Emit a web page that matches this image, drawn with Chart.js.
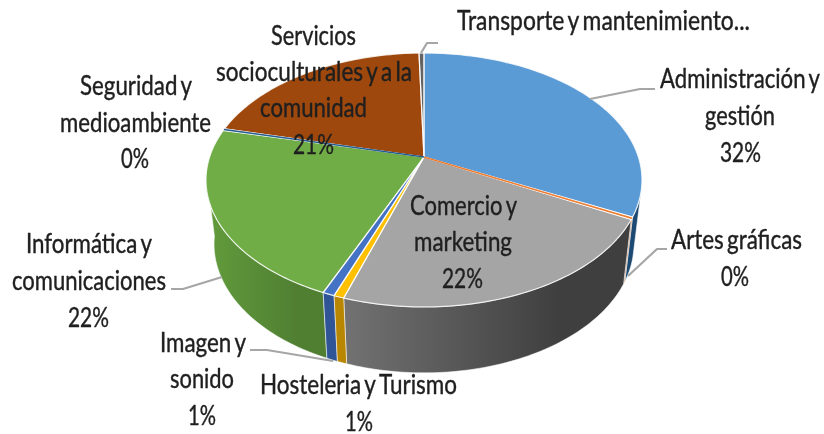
<!DOCTYPE html>
<html><head><meta charset="utf-8">
<style>html,body{margin:0;padding:0;background:#fff}canvas{display:block}</style>
<script src="https://cdn.jsdelivr.net/npm/chart.js@4/dist/chart.umd.js"></script>
</head><body><canvas id="c" width="824" height="434"></canvas>
<script>
const categories = ["Administración y gestión","Artes gráficas","Comercio y marketing","Hosteleria y Turismo","Imagen y sonido","Informática y comunicaciones","Seguridad y medioambiente","Servicios socioculturales y a la comunidad","Transporte y mantenimiento..."];
const shareValues = [32.4,0.28,22.3,0.64,0.75,22.2,0.22,20.7,0.44];
const topColors = ["#5b9bd5","#ed7d31","#a5a5a5","#ffc000","#4472c4","#70ad47","#255e91","#9e480e","#636363"];
const wallColors = [["#1c4a72","#1c4a72"],["#b05a20","#b05a20"],["#727272","#3f3f3f"],["#b88600","#b88600"],["#2f5597","#2f5597"],["#629c3c","#507f32"],["#1a4266","#1a4266"],["#6f330a","#6f330a"],["#464646","#464646"]];
const labelLines = [["Administración y","gestión"],["Artes gráficas"],["Comercio y","marketing"],["Hosteleria y Turismo"],["Imagen y","sonido"],["Informática y","comunicaciones"],["Seguridad y","medioambiente"],["Servicios","socioculturales y a la","comunidad"],["Transporte y mantenimiento..."]];
const showPercent = [true,true,true,true,true,true,true,true,false];

// text placement: [left, right, baseline] per printed line
const labelBoxes = [
 [[660,820,88],[705,775,125],[720,761,162]],
 [[671,802,249],[721,749,286]],
 [[410,517,215],[414,512,251],[442,483,288]],
 [[260,457,394],[345,373,431]],
 [[160,246,352],[170,234,388],[188,216,425]],
 [[26,152,253],[12,166,290],[68,109,327]],
 [[80,192,95],[60,211,132],[121,149,168]],
 [[271,356,45],[216,412,81],[260,367,117],[293,334,154]],
 [[457,750,30]]
];
const leaders = [
 [[590,99],[640,89],[655,89]],
 [[628,276],[657,249],[667,249]],
 [[171,289],[183,289],[222,277]],
 [[250,350],[267,350],[333,361]],
 [[421,53],[427,43],[438,43]]
];
const top3d = {cx:424,cy:157,rx:214.4,ry:122.8};
const bot3d = {cx:424,cy:220.6,rx:206.5,ry:124.7};
const K = 0.181;

function proj(p,theta){
  const x=Math.sin(theta), y=-Math.cos(theta), w=1-K*y;
  return [p.cx+p.rx*x/w, p.cy+p.ry*y/w];
}
function rim(p,a,b){
  const n=Math.max(2,Math.ceil((b-a)/0.02)), out=[];
  for(let i=0;i<=n;i++) out.push(proj(p,a+(b-a)*i/n));
  return out;
}
function trace(ctx,pts){pts.forEach((q,i)=>i?ctx.lineTo(q[0],q[1]):ctx.moveTo(q[0],q[1]));}
function trace2(ctx,pts){pts.forEach(q=>ctx.lineTo(q[0],q[1]));}

const pie3d = {
  id:'pie3d',
  beforeDatasetsDraw(chart){
    const ctx=chart.ctx, arcs=chart.getDatasetMeta(0).data;
    const spans=arcs.map(a=>[a.startAngle+Math.PI/2,a.endAngle+Math.PI/2]);
    const lo=106*Math.PI/180, hi=263*Math.PI/180;
    ctx.save();
    ctx.lineJoin='round';
    // side walls, outer ones first
    const order=spans.map((s,i)=>i).sort((i,j)=>Math.abs((spans[j][0]+spans[j][1])/2-Math.PI)-Math.abs((spans[i][0]+spans[i][1])/2-Math.PI));
    order.forEach(i=>{
      const a=Math.max(spans[i][0],lo), b=Math.min(spans[i][1],hi);
      if(b<=a) return;
      const t=rim(top3d,a,b), u=rim(bot3d,a,b).reverse();
      const poly=t.concat(u), xs=poly.map(q=>q[0]);
      const x0=Math.min(...xs), x1=Math.max(...xs);
      const g=ctx.createLinearGradient(x0,0,x0+(x1-x0)*0.75,0);
      g.addColorStop(0,wallColors[i][0]); g.addColorStop(1,wallColors[i][1]);
      ctx.beginPath(); trace(ctx,poly); ctx.closePath();
      ctx.fillStyle=g; ctx.fill();
      ctx.strokeStyle='rgba(255,255,255,0.55)'; ctx.lineWidth=1; ctx.stroke();
    });
    // top faces
    spans.forEach((s,i)=>{
      ctx.beginPath(); ctx.moveTo(top3d.cx,top3d.cy); trace2(ctx,rim(top3d,s[0],s[1])); ctx.closePath();
      ctx.fillStyle=topColors[i]; ctx.fill();
    });
    spans.forEach((s,i)=>{
      ctx.beginPath(); ctx.moveTo(top3d.cx,top3d.cy); trace2(ctx,rim(top3d,s[0],s[1])); ctx.closePath();
      ctx.strokeStyle='rgba(255,255,255,0.8)'; ctx.lineWidth=1.2; ctx.stroke();
    });
    // thin slices again so that the seams do not swallow them
    spans.forEach((s,i)=>{
      if(s[1]-s[0]>0.02) return;
      const q=proj(top3d,(s[0]+s[1])/2);
      ctx.beginPath(); ctx.moveTo(top3d.cx,top3d.cy); ctx.lineTo(q[0],q[1]);
      ctx.strokeStyle=topColors[i]; ctx.lineWidth=1.5; ctx.stroke();
    });
    // leader lines
    ctx.strokeStyle='#a6a6a6'; ctx.lineWidth=2.2; ctx.filter='blur(0.5px)';
    leaders.forEach(l=>{ctx.beginPath(); trace(ctx,l); ctx.stroke();});
    // labels
    ctx.font='26px Lato'; ctx.wordSpacing='-3px'; ctx.fillStyle='#1f1f1f'; ctx.strokeStyle='#1f1f1f'; ctx.lineWidth=0.4;
    ctx.textAlign='left'; ctx.textBaseline='alphabetic';
    const total=shareValues.reduce((a,b)=>a+b,0);
    labelLines.forEach((lines,i)=>{
      const all=lines.slice();
      if(showPercent[i]) all.push(Math.round(shareValues[i]/total*100)+'%');
      all.forEach((txt,j)=>{
        const box=labelBoxes[i][j], w=ctx.measureText(txt).width;
        ctx.save();
        ctx.translate(box[0],box[2]); ctx.scale((box[1]-box[0])/w,1);
        ctx.fillText(txt,0,0);
        ctx.strokeText(txt,0,0);
        ctx.restore();
      });
    });
    ctx.restore();
    return false;
  }
};

new Chart(document.getElementById('c'),{
  type:'pie',
  data:{labels:categories,datasets:[{data:shareValues,backgroundColor:topColors}]},
  options:{responsive:false,animation:false,plugins:{legend:{display:false},tooltip:{enabled:false}},layout:{padding:0}},
  plugins:[pie3d]
});
</script></body></html>
